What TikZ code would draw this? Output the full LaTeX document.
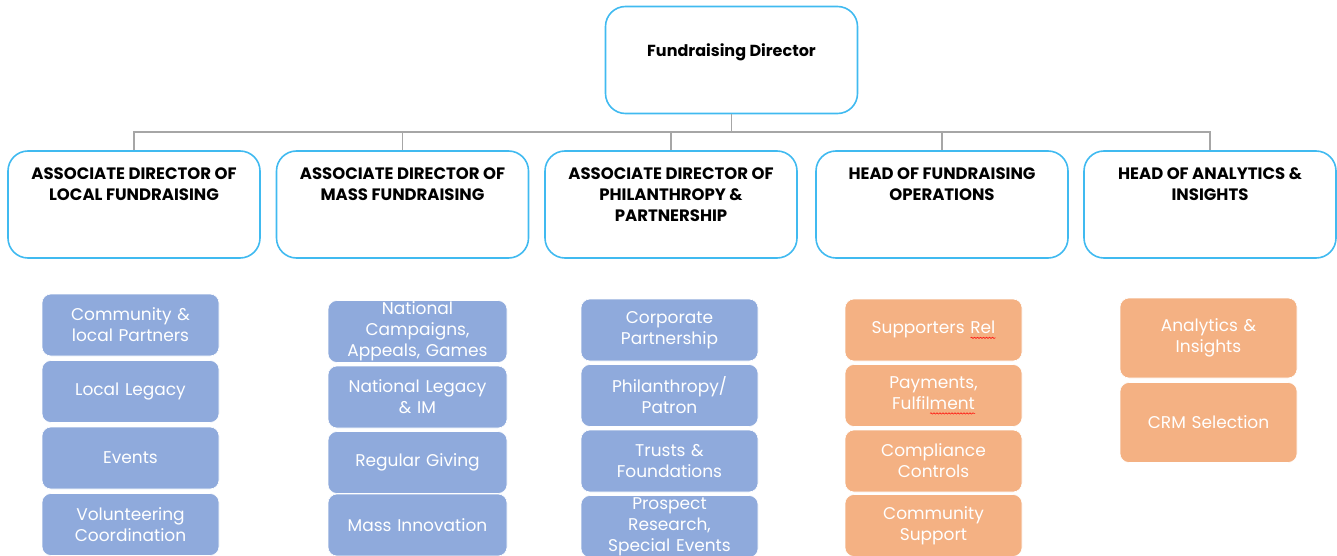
\documentclass[tikz,border=0pt]{standalone}
\usepackage{fontspec}
\setmainfont{Poppins}
\usepackage{xcolor}
\usetikzlibrary{positioning, decorations.pathmorphing}

\definecolor{headline}{RGB}{64,186,240}
\definecolor{conn}{RGB}{166,166,166}
\definecolor{bluebox}{RGB}{143,170,220}
\definecolor{orangebox}{RGB}{244,177,131}

\newsavebox{\wavebox}
\newcommand{\spellwave}[1]{\sbox{\wavebox}{#1}\rlap{\tikz[baseline=0pt]\draw[red, sharp corners, fill=none, line width=0.5pt, decorate, decoration={snake, amplitude=0.7pt, segment length=3pt}] (0pt,-4pt) -- (\wd\wavebox,-4pt);}\usebox{\wavebox}}
\newcommand{\headtext}[1]{\parbox[t][73pt][t]{240pt}{\centering #1}}

\begin{document}
\begin{tikzpicture}[x=1pt, y=-1pt, node distance=65.5pt,
		head/.style={draw=headline, line width=1.6pt, rounded corners=20pt, minimum width=252pt, minimum height=107pt, inner xsep=5pt, inner ysep=17pt, font=\bfseries\fontsize{16.5}{21}\selectfont},
		unit/.style={draw=white, line width=0.6pt, rounded corners=9pt, minimum width=177pt, minimum height=62pt, inner sep=0pt, text width=174pt, align=center, text=white, font=\fontsize{17}{21}\selectfont},
		blueunit/.style={unit, fill=bluebox},
		orangeunit/.style={unit, fill=orangebox}]
			\useasboundingbox (0,0) rectangle (1337,556);

			\node[head, text depth=20pt, font=\bfseries\fontsize{16}{18}\selectfont] (dir) at (731.5,60) {Fundraising Director};
			\coordinate (bus) at (731.5,132);

			\node[head] (h1) at (134,204.5) {\headtext{ASSOCIATE DIRECTOR OF\\LOCAL FUNDRAISING}};
			\node[head] (h2) at (402.5,204.5) {\headtext{ASSOCIATE DIRECTOR OF\\MASS FUNDRAISING}};
			\node[head] (h3) at (671,204.5) {\headtext{ASSOCIATE DIRECTOR OF\\PHILANTHROPY \&\\PARTNERSHIP}};
			\node[head] (h4) at (942,204.5) {\headtext{HEAD OF FUNDRAISING\\OPERATIONS}};
			\node[head] (h5) at (1210,204.5) {\headtext{HEAD OF ANALYTICS \&\\INSIGHTS}};

			\node[blueunit] (s11) at (130.5,325) {Community \&\\local Partners};
			\node[blueunit] (s12)[below of = s11, yshift=-1] {Local Legacy};
			\node[blueunit] (s13)[below of = s12, yshift=-1] {Events};
			\node[blueunit] (s14)[below of = s13, yshift=-1] {Volunteering\\Coordination};

			\node[blueunit, minimum width=179pt] (s21) at (417.5,331.5) {National\\Campaigns,\\Appeals, Games};
			\node[blueunit, minimum width=179pt] (s22)[below of = s21] {National Legacy\\\& IM};
			\node[blueunit, minimum width=179pt] (s23)[below of = s22] {Regular Giving};
			\node[blueunit, minimum width=179pt] (s24)[below of = s23, yshift=3] {Mass Innovation};

			\node[blueunit] (s31) at (669.5,330) {Corporate\\Partnership};
			\node[blueunit] (s32)[below of = s31] {Philanthropy/\\Patron};
			\node[blueunit] (s33)[below of = s32] {Trusts \&\\Foundations};
			\node[blueunit] (s34)[below of = s33] {Prospect\\Research,\\Special Events};

			\node[orangeunit] (s41) at (933.5,330) {Supporters \spellwave{Rel}};
			\node[orangeunit] (s42)[below of = s41] {Payments,\\Fulfil\spellwave{ment}};
			\node[orangeunit] (s43)[below of = s42] {Compliance\\Controls};
			\node[orangeunit] (s44)[below of = s43, yshift=1] {Community\\Support};

			\node[orangeunit, minimum height=80pt] (s51) at (1208.5,338) {Analytics \&\\Insights};
			\node[orangeunit, minimum height=80pt] (s52)[below of = s51, yshift=-19] {CRM Selection};

			\path[every edge/.style={draw=conn, line width=1.3pt, to path={-- (bus) -| (\tikztotarget.north)}}]
				(dir) edge (h1)
				(dir) edge (h2)
				(dir) edge (h3)
				(dir) edge (h4)
				(dir) edge (h5)
			;
		\end{tikzpicture}
\end{document}
